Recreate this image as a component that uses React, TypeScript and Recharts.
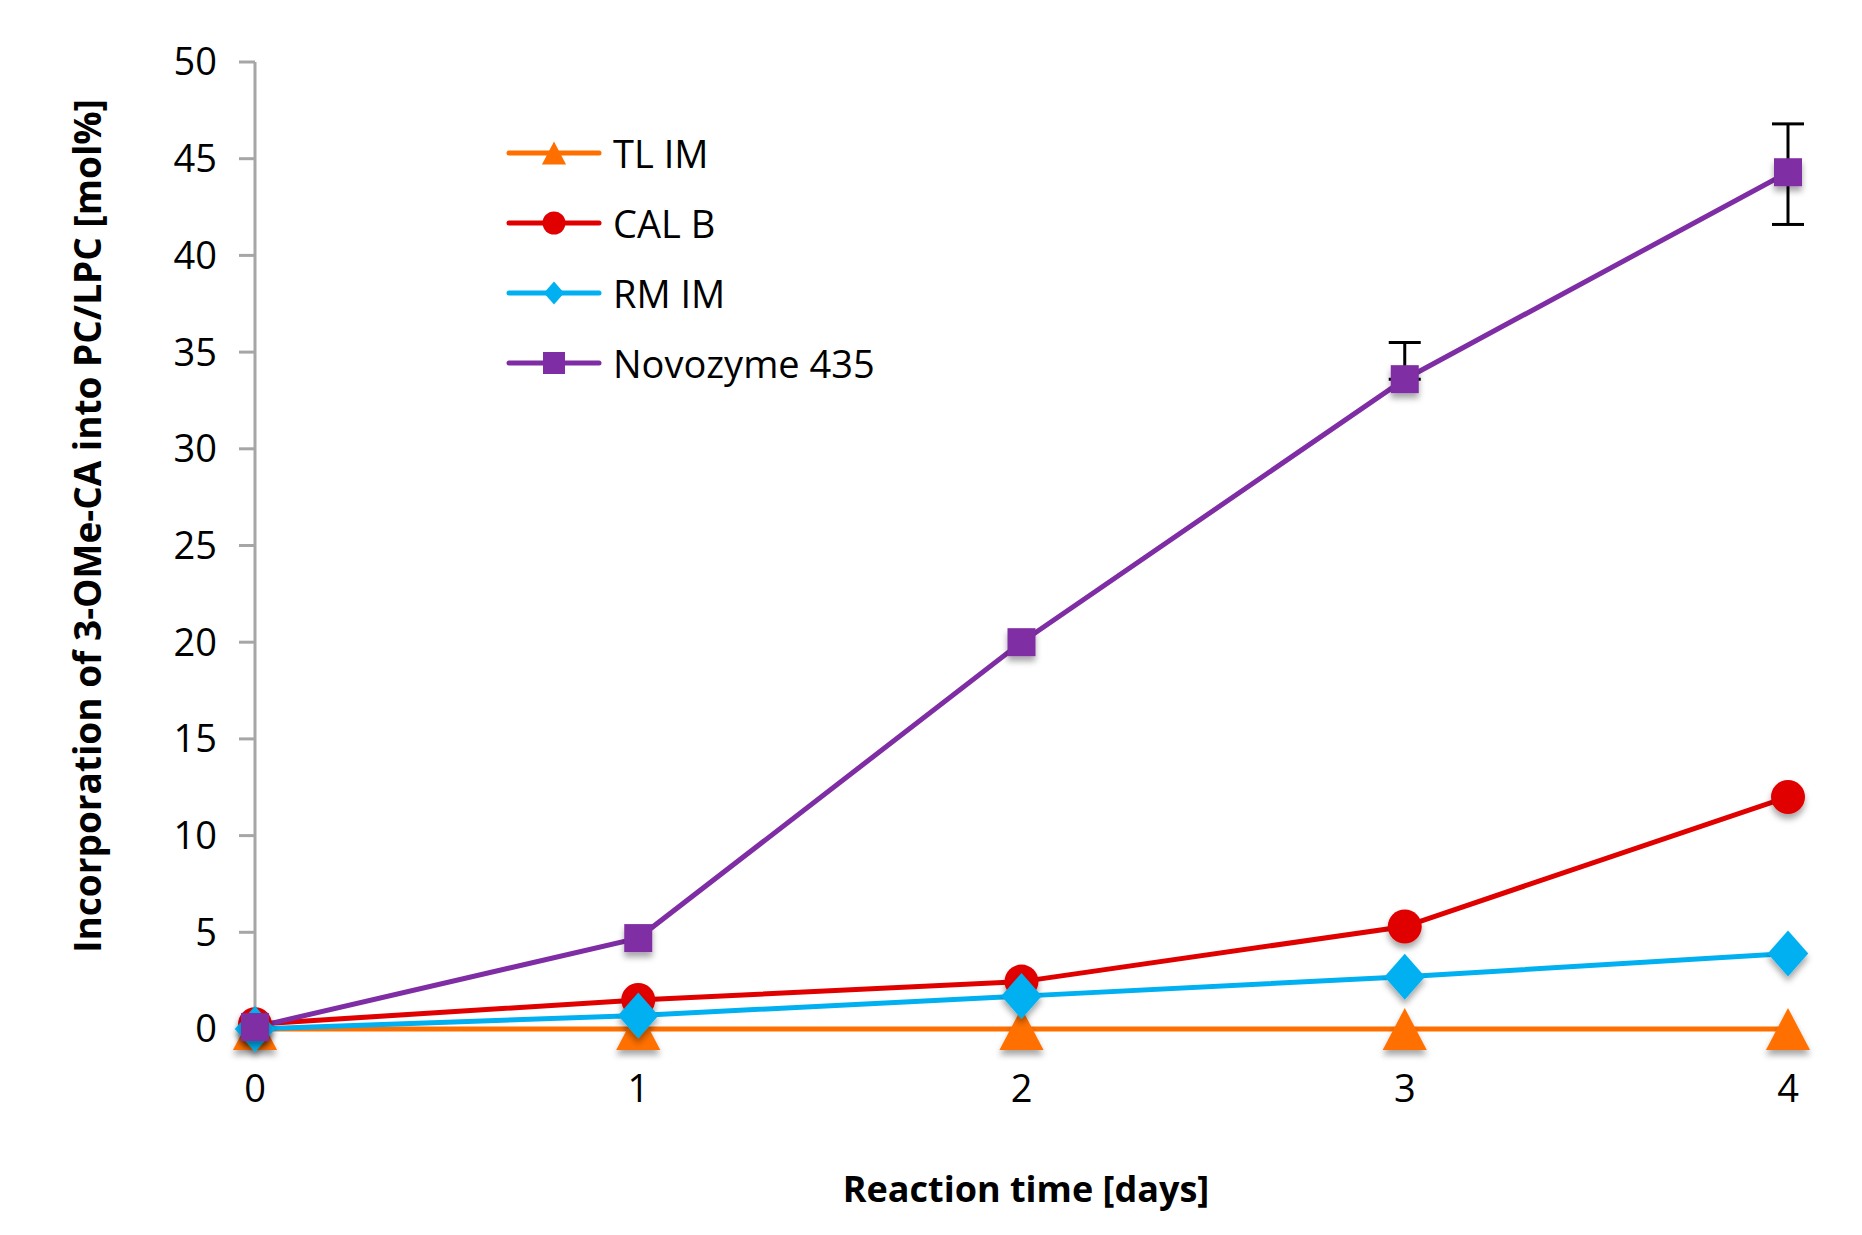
import React from "react";
import { LineChart, Line, XAxis, YAxis, Legend, ErrorBar } from "recharts";

// reaction time in days
const DAYS = [0, 1, 2, 3, 4];

// incorporation [mol%] per lipase
const TL_IM = [0, 0, 0, 0, 0];
const CAL_B = [0.25, 1.5, 2.45, 5.3, 12.0];
const RM_IM = [0, 0.7, 1.7, 2.7, 3.9];
const NOVOZYME = [0.1, 4.7, 20.0, 33.6, 44.3];
// [minus, plus] error for Novozyme 435
const NOVOZYME_ERR: any[] = [undefined, undefined, undefined, [0, 1.9], [2.7, 2.5]];

const Y_TICKS = [0, 5, 10, 15, 20, 25, 30, 35, 40, 45, 50];

const data = DAYS.map((d, i) => ({
  day: d,
  tl: TL_IM[i],
  cal: CAL_B[i],
  rm: RM_IM[i],
  novo: NOVOZYME[i],
  novoErr: NOVOZYME_ERR[i],
}));

const SERIES = [
  { key: "tl", name: "TL IM", color: "#FF6F00", shape: "triangle" },
  { key: "cal", name: "CAL B", color: "#E00000", shape: "circle" },
  { key: "rm", name: "RM IM", color: "#00B0F0", shape: "diamond" },
  { key: "novo", name: "Novozyme 435", color: "#7F2DA4", shape: "square" },
];

const FONT = "'Open Sans', sans-serif";
const AXIS_GREY = "#A6A6A6";

const drawShape = (shape: string, cx: number, cy: number, color: string, s: number, filter?: string) => {
  switch (shape) {
    case "triangle": {
      const w = s * 1.05;
      const h = s;
      return (
        <polygon
          points={`${cx},${cy - h / 2} ${cx + w / 2},${cy + h / 2} ${cx - w / 2},${cy + h / 2}`}
          fill={color}
          filter={filter}
        />
      );
    }
    case "circle":
      return <circle cx={cx} cy={cy} r={s / 2} fill={color} filter={filter} />;
    case "diamond": {
      const w = s * 0.88;
      const h = s;
      return (
        <polygon
          points={`${cx},${cy - h / 2} ${cx + w / 2},${cy} ${cx},${cy + h / 2} ${cx - w / 2},${cy}`}
          fill={color}
          filter={filter}
        />
      );
    }
    default:
      return <rect x={cx - s / 2} y={cy - s / 2} width={s} height={s} fill={color} filter={filter} />;
  }
};

const MARKER_SIZE: any = { triangle: 42, circle: 34, diamond: 46, square: 28 };

const makeDot = (shape: string, color: string) => (props: any) => {
  const { cx, cy, index } = props;
  if (cx == null || cy == null) return <g key={`d-${index}`} />;
  return (
    <g key={`d-${shape}-${index}`}>
      {drawShape(shape, cx, cy, color, MARKER_SIZE[shape], "url(#markerShadow)")}
    </g>
  );
};

const LegendBox = () => (
  <div style={{ fontFamily: FONT, fontSize: 38, color: "#000" }}>
    {SERIES.map((s) => (
      <div key={s.key} style={{ display: "flex", alignItems: "center", height: 70 }}>
        <svg width={96} height={70} style={{ marginRight: 11 }}>
          <line x1={3} x2={93} y1={35} y2={35} stroke={s.color} strokeWidth={5} strokeLinecap="round" />
          {drawShape(s.shape, 48, 35, s.color, s.shape === "square" ? 22 : 23)}
        </svg>
        <span style={{ lineHeight: "70px" }}>{s.name}</span>
      </div>
    ))}
  </div>
);

const YTitle = () => (
  <text
    x={80}
    y={518}
    dy="0.35em"
    transform="rotate(-90, 80, 518)"
    textAnchor="middle"
    fontFamily={FONT}
    fontWeight="bold"
    fontSize={37}
    fill="#000"
  >
    Incorporation of 3-OMe-CA into PC/LPC [mol%]
  </text>
);

const XTitle = () => (
  <text
    x={1018}
    y={1181}
    dy="0.35em"
    textAnchor="middle"
    fontFamily={FONT}
    fontWeight="bold"
    fontSize={36}
    fill="#000"
  >
    Reaction time [days]
  </text>
);

export default function App() {
  return (
    <LineChart
      width={1846}
      height={1220}
      data={data}
      margin={{ top: 54, right: 66, left: 0, bottom: 0 }}
    >
      <defs>
        <filter id="markerShadow" x="-50%" y="-50%" width="200%" height="200%">
          <feDropShadow dx="0" dy="5" stdDeviation="3" floodColor="#000" floodOpacity="0.35" />
        </filter>
      </defs>
      <XAxis
        dataKey="day"
        type="number"
        domain={[0, 4]}
        ticks={DAYS}
        height={199}
        axisLine={false}
        tickLine={false}
        tickSize={0}
        tickMargin={46}
        tick={{ fontFamily: FONT, fontSize: 38, fill: "#000" }}
        label={<XTitle />}
      />
      <YAxis
        type="number"
        domain={[0, 50]}
        ticks={Y_TICKS}
        width={247}
        axisLine={{ stroke: AXIS_GREY, strokeWidth: 3 }}
        tickLine={{ stroke: AXIS_GREY, strokeWidth: 3 }}
        tickSize={16}
        tickMargin={22}
        tick={{ fontFamily: FONT, fontSize: 38, fill: "#000" }}
        label={<YTitle />}
      />
      <Legend
        layout="vertical"
        align="center"
        verticalAlign="middle"
        content={<LegendBox />}
        wrapperStyle={{ left: 498, top: 110, width: 420 }}
      />
      {/* error bars on a hidden copy so markers sit over them */}
      <Line
        dataKey="novo"
        stroke="none"
        dot={false}
        activeDot={false}
        legendType="none"
        isAnimationActive={false}
      >
        <ErrorBar dataKey="novoErr" width={16} strokeWidth={3} stroke="#000" direction="y" />
      </Line>
      {SERIES.map((s) => (
        <Line
          key={s.key}
          dataKey={s.key}
          name={s.name}
          type="linear"
          stroke={s.color}
          strokeWidth={5}
          dot={makeDot(s.shape, s.color)}
          activeDot={false}
          isAnimationActive={false}
        />
      ))}
    </LineChart>
  );
}
